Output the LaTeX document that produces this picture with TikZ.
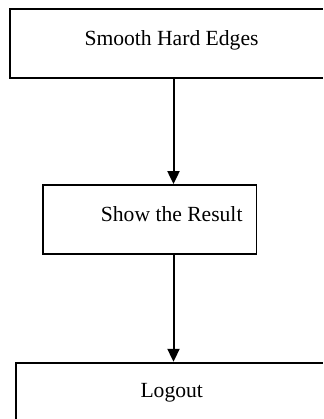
\documentclass[tikz,border=0pt]{standalone}
\usepackage{fontspec}
\setmainfont{Liberation Serif}
\usetikzlibrary{arrows.meta}

\begin{document}
\begin{tikzpicture}[x=0.5pt,y=-0.5pt,
  flowbox/.style={draw,line width=0.9pt,inner sep=0pt},
  flowtext/.style={anchor=base,inner sep=0pt,font=\fontsize{10.8}{13}\selectfont},
  flowarrow/.style={line width=1pt,-{Triangle[width=6pt,length=6.5pt]}}]
\path[use as bounding box,clip] (0,0) rectangle (323,419);
\fill[white] (0,0) rectangle (323,419);
\coordinate (axis) at (173.5,0);
\node[flowbox,minimum width=162.5pt,minimum height=34.4pt] (smoothbox) at (172.5,43.4) {};
\node[flowbox,minimum width=106.9pt,minimum height=34.5pt] (showbox) at (149.6,219.5) {};
\node[flowbox,minimum width=159.5pt,minimum height=38.7pt] (logoutbox) at (175.5,401.4) {};
\node[flowtext] (smooth) at (171.5,45) {Smooth Hard Edges};
\node[flowtext] (show) at (171.7,221.7) {Show the Result};
\node[flowtext] (logout) at (171.7,397.7) {Logout};
\draw[flowarrow] (smoothbox.south -| axis) -- (showbox.north -| axis);
\draw[flowarrow] (showbox.south -| axis) -- (logoutbox.north -| axis);
\end{tikzpicture}
\end{document}
